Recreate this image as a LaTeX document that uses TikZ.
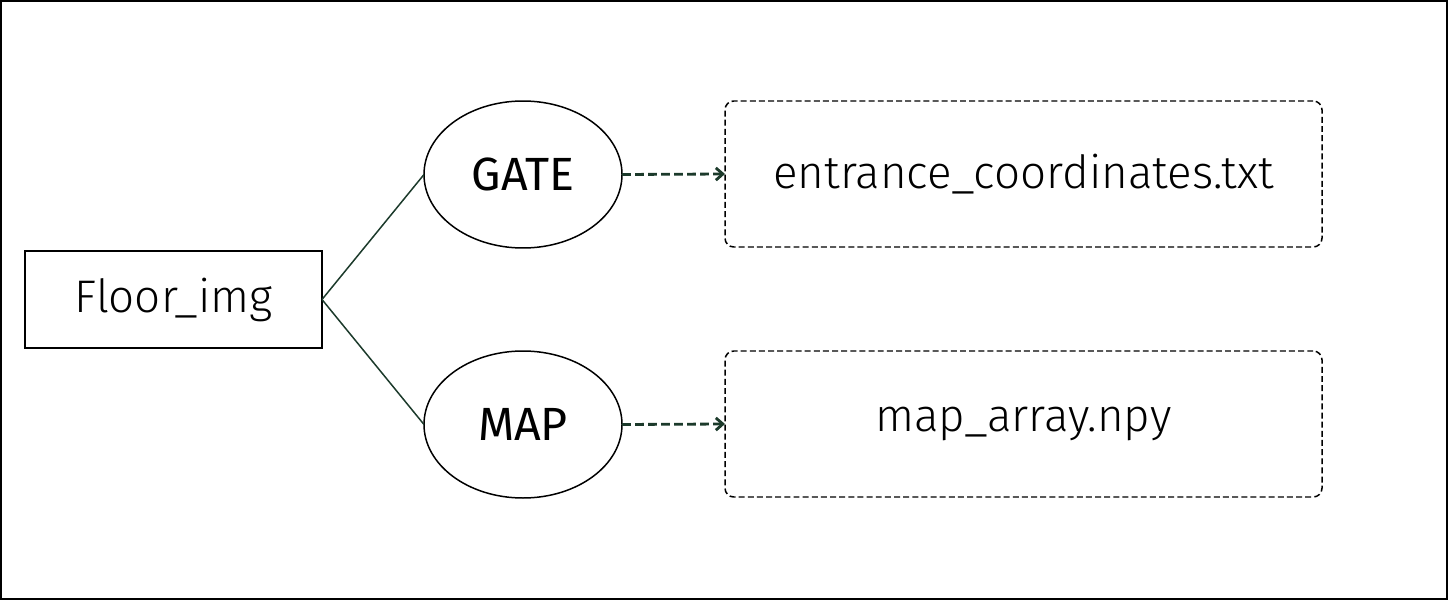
\documentclass[tikz,border=0pt]{standalone}
\usepackage{fontspec}
\setmainfont{Fira Sans Light}
\newfontfamily\keyfont{Fira Sans}
\usetikzlibrary{shapes.geometric,arrows.meta}
\definecolor{linkgreen}{HTML}{1C3A2B}
\begin{document}
\begin{tikzpicture}[inner sep=0pt,outer sep=0pt,line width=0.85pt,
srcbox/.style={draw,rectangle,minimum width=5.94cm,minimum height=1.94cm,font=\fontsize{26}{30}\selectfont},
stepnode/.style={draw,ellipse,minimum width=3.96cm,minimum height=2.94cm,font=\keyfont\fontsize{26.5}{30}\selectfont},
filebox/.style={draw,rectangle,rounded corners=5pt,dash pattern=on 3.4pt off 1.8pt,minimum width=11.94cm,minimum height=2.92cm,font=\fontsize{26}{30}\selectfont},
link/.style={draw=linkgreen,line width=0.85pt},
outlink/.style={draw=linkgreen,line width=1.6pt,dash pattern=on 5pt off 2.4pt,-{Straight Barb[length=4pt,width=7pt]}}]
\useasboundingbox (0,0) rectangle (28.98,12);
\draw[line width=1.2pt] (0.02,0.02) rectangle (28.94,11.98);

\draw (3.47,6.01) node[srcbox] (floor) {Floor\_img};
\draw (10.46,8.51) node[stepnode] (gate) {GATE};
\draw (10.46,3.51) node[stepnode] (map) {MAP};
\draw (20.47,8.52) node[filebox] (coords) {entrance\_coordinates.txt};
\draw (20.47,3.52) node[filebox] (mapnpy) {map\_array.npy};

\draw[link] (floor.east) -- (gate.west);
\draw[link] (floor.east) -- (map.west);
\draw[outlink] (gate.east) -- (coords.west);
\draw[outlink] (map.east) -- (mapnpy.west);
\end{tikzpicture}
\end{document}
